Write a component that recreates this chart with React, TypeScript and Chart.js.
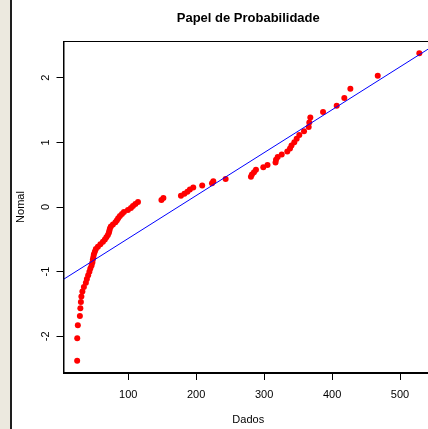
import React, { useEffect, useRef } from "react";
import { Chart, registerables } from "chart.js";

Chart.register(...registerables);

const xData = [
  24.9, 25.0, 25.9, 28.9, 29.6, 30.4, 31.1, 32.6, 34.8, 37.7,
  39.2, 41.1, 42.9, 44.3, 46.1, 47.3, 48.0, 48.8, 49.5, 51.0,
  52.4, 55.4, 59.1, 62.8, 65.7, 67.9, 70.1, 71.6, 72.3, 73.1,
  74.5, 77.5, 81.2, 83.4, 85.3, 87.8, 90.8, 93.7, 99.6, 104.0,
  107.0, 110.6, 114.4, 148.9, 151.8, 177.6, 182.7, 187.1, 190.8, 195.7,
  208.9, 223.3, 225.2, 243.4, 280.6, 282.1, 285.1, 288.0, 298.8, 305.0,
  316.8, 317.5, 320.0, 325.9, 334.1, 338.1, 340.3, 344.4, 347.9, 351.8,
  358.7, 365.6, 366.5, 368.0, 386.7, 406.8, 418.0, 426.9, 467.2, 528.4,
];

// Normal scores (Normal axis)
const yData = [
  -2.378, -2.031, -1.831, -1.685, -1.568, -1.469, -1.383, -1.306, -1.236, -1.172,
  -1.112, -1.056, -1.003, -0.953, -0.905, -0.859, -0.814, -0.772, -0.731, -0.69,
  -0.651, -0.613, -0.576, -0.539, -0.504, -0.468, -0.434, -0.4, -0.367, -0.334,
  -0.301, -0.269, -0.237, -0.204, -0.173, -0.141, -0.109, -0.078, -0.047, -0.016,
  0.016, 0.047, 0.078, 0.109, 0.141, 0.173, 0.204, 0.237, 0.269, 0.301,
  0.334, 0.367, 0.4, 0.434, 0.468, 0.504, 0.539, 0.576, 0.613, 0.651,
  0.69, 0.731, 0.772, 0.814, 0.859, 0.905, 0.953, 1.003, 1.056, 1.112,
  1.172, 1.236, 1.306, 1.383, 1.469, 1.568, 1.685, 1.831, 2.031, 2.378,
];

// Reference line (two end points)
const lineX = [0, 600];
const lineY = [-1.151, 2.832];

const xTicks = [100, 200, 300, 400, 500];
const yTicks = [-2, -1, 0, 1, 2];

const titleText = "Papel de Probabilidade";
const xLabel = "Dados";
const yLabel = "Nomal";

const FONT = "'Liberation Sans', Arial, Helvetica, sans-serif";

export default function App() {
  const ref = useRef<HTMLCanvasElement | null>(null);

  useEffect(() => {
    if (!ref.current) return;

    const textPlugin = {
      id: "rText",
      afterDraw(chart: any) {
        const { ctx, chartArea: a } = chart;
        ctx.save();
        ctx.strokeStyle = "#000";
        ctx.lineWidth = 1;
        const l = Math.round(a.left) + 0.5;
        const t = Math.round(a.top) + 0.5;
        const r = Math.round(a.right) + 0.5;
        const b = Math.round(a.bottom) - 0.5;
        ctx.strokeRect(l - 0.5, t, r - l, b - t);
        ctx.fillStyle = "#000";
        ctx.textAlign = "center";
        ctx.textBaseline = "alphabetic";
        const cx = (a.left + a.right) / 2;
        ctx.font = `bold 13px ${FONT}`;
        ctx.fillText(titleText, cx, 22);
        ctx.font = `11px ${FONT}`;
        ctx.fillText(xLabel, cx, 423);
        ctx.translate(12, (a.top + a.bottom) / 2);
        ctx.rotate(-Math.PI / 2);
        ctx.fillText(yLabel, 0, 0);
        ctx.restore();
      },
    };

    const chart = new Chart(ref.current, {
      type: "scatter",
      data: {
        datasets: [
          {
            type: "line",
            data: lineX.map((x, i) => ({ x, y: lineY[i] })),
            borderColor: "#0000ff",
            borderWidth: 1,
            pointRadius: 0,
            fill: false,
          },
          {
            data: xData.map((x, i) => ({ x, y: yData[i] })),
            backgroundColor: "#ff0000",
            borderWidth: 0,
            pointRadius: 3,
          },
        ],
      } as any,
      options: {
        animation: false,
        responsive: false,
        devicePixelRatio: 1,
        layout: { padding: { top: 41, right: 15, left: 0, bottom: 0 } },
        plugins: {
          legend: { display: false },
          tooltip: { enabled: false },
          title: { display: false },
        },
        scales: {
          x: {
            type: "linear",
            min: 4.8,
            max: 548.5,
            afterBuildTicks: (s: any) => {
              s.ticks = xTicks.map((v) => ({ value: v }));
            },
            afterFit: (s: any) => {
              s.height = 56;
            },
            ticks: {
              color: "#000",
              font: { family: FONT, size: 11 },
              padding: 8,
              maxRotation: 0,
              minRotation: 0,
              callback: (v: any) => String(v),
            },
            grid: {
              drawOnChartArea: false,
              drawTicks: true,
              tickLength: 7,
              color: "#000",
              lineWidth: 1,
            },
            border: { display: true, color: "#000", width: 1 },
          },
          y: {
            type: "linear",
            min: -2.568,
            max: 2.568,
            afterBuildTicks: (s: any) => {
              s.ticks = yTicks.map((v) => ({ value: v }));
            },
            afterFit: (s: any) => {
              s.width = 51.5;
            },
            ticks: {
              color: "#000",
              font: { family: FONT, size: 11 },
              padding: 6,
              minRotation: 90,
              maxRotation: 90,
              crossAlign: "center",
              callback: (v: any) => String(v),
            },
            grid: {
              drawOnChartArea: false,
              drawTicks: true,
              tickLength: 7,
              color: "#000",
              lineWidth: 1,
            },
            border: { display: true, color: "#000", width: 1 },
          },
        },
      } as any,
      plugins: [textPlugin],
    });

    return () => chart.destroy();
  }, []);

  return (
    <div
      style={{
        position: "fixed",
        left: 0,
        top: 0,
        width: 428,
        height: 429,
        overflow: "hidden",
        background: "#ffffff",
      }}
    >
      <div
        style={{
          position: "absolute",
          left: 0,
          top: 0,
          width: 10,
          height: 429,
          background: "#ECE9DF",
          borderRight: "2px solid #1e1e1e",
        }}
      />
      <canvas
        ref={ref}
        width={436}
        height={429}
        style={{ position: "absolute", left: 12, top: 0, width: 436, height: 429 }}
      />
    </div>
  );
}
